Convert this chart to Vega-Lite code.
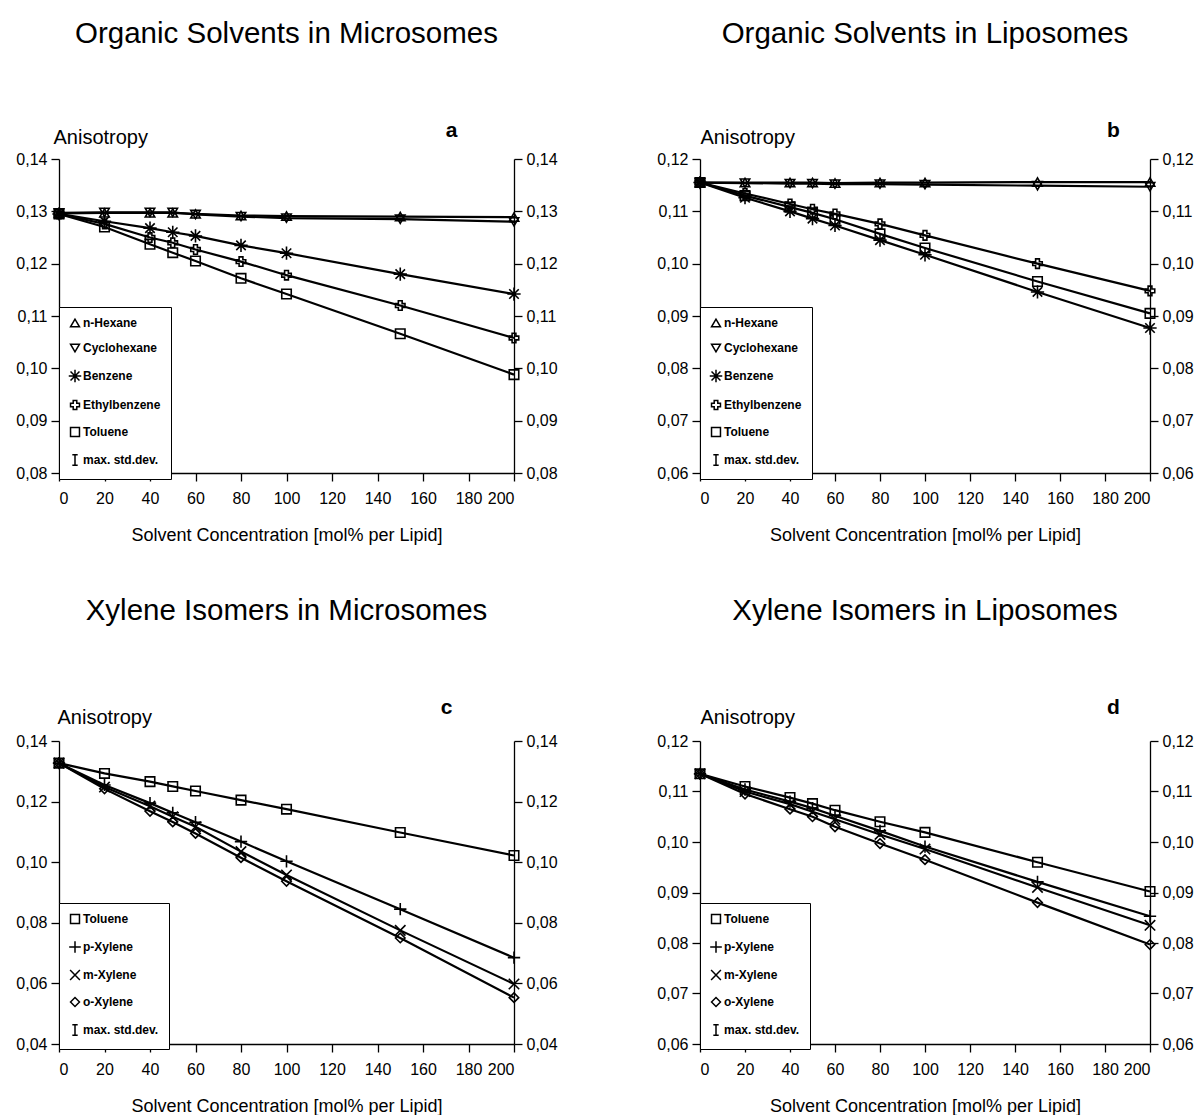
{
  "$schema": "https://vega.github.io/schema/vega-lite/v6.json",
  "autosize": {"type": "pad"},
  "padding": {"left": 15, "top": 18, "right": 0, "bottom": 0},
  "background": "white",
  "datasets": {
    "a": [
      {"conc": 0, "series": "n-Hexane", "aniso": 0.1296}, {"conc": 20, "series": "n-Hexane", "aniso": 0.1297}, {"conc": 40, "series": "n-Hexane", "aniso": 0.1297}, {"conc": 50, "series": "n-Hexane", "aniso": 0.1297}, {"conc": 60, "series": "n-Hexane", "aniso": 0.1295}, {"conc": 80, "series": "n-Hexane", "aniso": 0.1292}, {"conc": 100, "series": "n-Hexane", "aniso": 0.1291}, {"conc": 150, "series": "n-Hexane", "aniso": 0.129}, {"conc": 200, "series": "n-Hexane", "aniso": 0.1289},
      {"conc": 0, "series": "Cyclohexane", "aniso": 0.1297}, {"conc": 20, "series": "Cyclohexane", "aniso": 0.1298}, {"conc": 40, "series": "Cyclohexane", "aniso": 0.1298}, {"conc": 50, "series": "Cyclohexane", "aniso": 0.1298}, {"conc": 60, "series": "Cyclohexane", "aniso": 0.1294}, {"conc": 80, "series": "Cyclohexane", "aniso": 0.129}, {"conc": 100, "series": "Cyclohexane", "aniso": 0.1287}, {"conc": 150, "series": "Cyclohexane", "aniso": 0.1285}, {"conc": 200, "series": "Cyclohexane", "aniso": 0.128},
      {"conc": 0, "series": "Benzene", "aniso": 0.1295}, {"conc": 20, "series": "Benzene", "aniso": 0.1281}, {"conc": 40, "series": "Benzene", "aniso": 0.1268}, {"conc": 50, "series": "Benzene", "aniso": 0.126}, {"conc": 60, "series": "Benzene", "aniso": 0.1253}, {"conc": 80, "series": "Benzene", "aniso": 0.1235}, {"conc": 100, "series": "Benzene", "aniso": 0.122}, {"conc": 150, "series": "Benzene", "aniso": 0.118}, {"conc": 200, "series": "Benzene", "aniso": 0.1142},
      {"conc": 0, "series": "Ethylbenzene", "aniso": 0.1295}, {"conc": 20, "series": "Ethylbenzene", "aniso": 0.1276}, {"conc": 40, "series": "Ethylbenzene", "aniso": 0.125}, {"conc": 50, "series": "Ethylbenzene", "aniso": 0.124}, {"conc": 60, "series": "Ethylbenzene", "aniso": 0.1227}, {"conc": 80, "series": "Ethylbenzene", "aniso": 0.1204}, {"conc": 100, "series": "Ethylbenzene", "aniso": 0.1178}, {"conc": 150, "series": "Ethylbenzene", "aniso": 0.112}, {"conc": 200, "series": "Ethylbenzene", "aniso": 0.1058},
      {"conc": 0, "series": "Toluene", "aniso": 0.1295}, {"conc": 20, "series": "Toluene", "aniso": 0.127}, {"conc": 40, "series": "Toluene", "aniso": 0.1237}, {"conc": 50, "series": "Toluene", "aniso": 0.1221}, {"conc": 60, "series": "Toluene", "aniso": 0.1205}, {"conc": 80, "series": "Toluene", "aniso": 0.1172}, {"conc": 100, "series": "Toluene", "aniso": 0.1142}, {"conc": 150, "series": "Toluene", "aniso": 0.1066}, {"conc": 200, "series": "Toluene", "aniso": 0.0988}
    ],
    "b": [
      {"conc": 0, "series": "n-Hexane", "aniso": 0.1155}, {"conc": 20, "series": "n-Hexane", "aniso": 0.1155}, {"conc": 40, "series": "n-Hexane", "aniso": 0.1155}, {"conc": 50, "series": "n-Hexane", "aniso": 0.1155}, {"conc": 60, "series": "n-Hexane", "aniso": 0.1154}, {"conc": 80, "series": "n-Hexane", "aniso": 0.1155}, {"conc": 100, "series": "n-Hexane", "aniso": 0.1155}, {"conc": 150, "series": "n-Hexane", "aniso": 0.1156}, {"conc": 200, "series": "n-Hexane", "aniso": 0.1156},
      {"conc": 0, "series": "Cyclohexane", "aniso": 0.1155}, {"conc": 20, "series": "Cyclohexane", "aniso": 0.1154}, {"conc": 40, "series": "Cyclohexane", "aniso": 0.1153}, {"conc": 50, "series": "Cyclohexane", "aniso": 0.1153}, {"conc": 60, "series": "Cyclohexane", "aniso": 0.1152}, {"conc": 80, "series": "Cyclohexane", "aniso": 0.1152}, {"conc": 100, "series": "Cyclohexane", "aniso": 0.1151}, {"conc": 150, "series": "Cyclohexane", "aniso": 0.1149}, {"conc": 200, "series": "Cyclohexane", "aniso": 0.1147},
      {"conc": 0, "series": "Benzene", "aniso": 0.1155}, {"conc": 20, "series": "Benzene", "aniso": 0.1126}, {"conc": 40, "series": "Benzene", "aniso": 0.11}, {"conc": 50, "series": "Benzene", "aniso": 0.1086}, {"conc": 60, "series": "Benzene", "aniso": 0.1073}, {"conc": 80, "series": "Benzene", "aniso": 0.1045}, {"conc": 100, "series": "Benzene", "aniso": 0.1017}, {"conc": 150, "series": "Benzene", "aniso": 0.0946}, {"conc": 200, "series": "Benzene", "aniso": 0.0877},
      {"conc": 0, "series": "Ethylbenzene", "aniso": 0.1155}, {"conc": 20, "series": "Ethylbenzene", "aniso": 0.1134}, {"conc": 40, "series": "Ethylbenzene", "aniso": 0.1114}, {"conc": 50, "series": "Ethylbenzene", "aniso": 0.1104}, {"conc": 60, "series": "Ethylbenzene", "aniso": 0.1095}, {"conc": 80, "series": "Ethylbenzene", "aniso": 0.1076}, {"conc": 100, "series": "Ethylbenzene", "aniso": 0.1054}, {"conc": 150, "series": "Ethylbenzene", "aniso": 0.1}, {"conc": 200, "series": "Ethylbenzene", "aniso": 0.0948},
      {"conc": 0, "series": "Toluene", "aniso": 0.1155}, {"conc": 20, "series": "Toluene", "aniso": 0.113}, {"conc": 40, "series": "Toluene", "aniso": 0.1108}, {"conc": 50, "series": "Toluene", "aniso": 0.1097}, {"conc": 60, "series": "Toluene", "aniso": 0.1085}, {"conc": 80, "series": "Toluene", "aniso": 0.1057}, {"conc": 100, "series": "Toluene", "aniso": 0.103}, {"conc": 150, "series": "Toluene", "aniso": 0.0966}, {"conc": 200, "series": "Toluene", "aniso": 0.0905}
    ],
    "c": [
      {"conc": 0, "series": "Toluene", "aniso": 0.1327}, {"conc": 20, "series": "Toluene", "aniso": 0.1293}, {"conc": 40, "series": "Toluene", "aniso": 0.1266}, {"conc": 50, "series": "Toluene", "aniso": 0.125}, {"conc": 60, "series": "Toluene", "aniso": 0.1235}, {"conc": 80, "series": "Toluene", "aniso": 0.1205}, {"conc": 100, "series": "Toluene", "aniso": 0.1175}, {"conc": 150, "series": "Toluene", "aniso": 0.1098}, {"conc": 200, "series": "Toluene", "aniso": 0.1022},
      {"conc": 0, "series": "p-Xylene", "aniso": 0.1327}, {"conc": 20, "series": "p-Xylene", "aniso": 0.1255}, {"conc": 40, "series": "p-Xylene", "aniso": 0.1195}, {"conc": 50, "series": "p-Xylene", "aniso": 0.1163}, {"conc": 60, "series": "p-Xylene", "aniso": 0.1132}, {"conc": 80, "series": "p-Xylene", "aniso": 0.1068}, {"conc": 100, "series": "p-Xylene", "aniso": 0.1003}, {"conc": 150, "series": "p-Xylene", "aniso": 0.0845}, {"conc": 200, "series": "p-Xylene", "aniso": 0.0685},
      {"conc": 0, "series": "m-Xylene", "aniso": 0.1327}, {"conc": 20, "series": "m-Xylene", "aniso": 0.1248}, {"conc": 40, "series": "m-Xylene", "aniso": 0.1185}, {"conc": 50, "series": "m-Xylene", "aniso": 0.115}, {"conc": 60, "series": "m-Xylene", "aniso": 0.1117}, {"conc": 80, "series": "m-Xylene", "aniso": 0.1035}, {"conc": 100, "series": "m-Xylene", "aniso": 0.0958}, {"conc": 150, "series": "m-Xylene", "aniso": 0.0775}, {"conc": 200, "series": "m-Xylene", "aniso": 0.0598},
      {"conc": 0, "series": "o-Xylene", "aniso": 0.1327}, {"conc": 20, "series": "o-Xylene", "aniso": 0.1242}, {"conc": 40, "series": "o-Xylene", "aniso": 0.1168}, {"conc": 50, "series": "o-Xylene", "aniso": 0.1133}, {"conc": 60, "series": "o-Xylene", "aniso": 0.1095}, {"conc": 80, "series": "o-Xylene", "aniso": 0.1015}, {"conc": 100, "series": "o-Xylene", "aniso": 0.0937}, {"conc": 150, "series": "o-Xylene", "aniso": 0.075}, {"conc": 200, "series": "o-Xylene", "aniso": 0.0553}
    ],
    "d": [
      {"conc": 0, "series": "Toluene", "aniso": 0.1135}, {"conc": 20, "series": "Toluene", "aniso": 0.111}, {"conc": 40, "series": "Toluene", "aniso": 0.1088}, {"conc": 50, "series": "Toluene", "aniso": 0.1076}, {"conc": 60, "series": "Toluene", "aniso": 0.1063}, {"conc": 80, "series": "Toluene", "aniso": 0.104}, {"conc": 100, "series": "Toluene", "aniso": 0.1019}, {"conc": 150, "series": "Toluene", "aniso": 0.096}, {"conc": 200, "series": "Toluene", "aniso": 0.0902},
      {"conc": 0, "series": "p-Xylene", "aniso": 0.1135}, {"conc": 20, "series": "p-Xylene", "aniso": 0.1104}, {"conc": 40, "series": "p-Xylene", "aniso": 0.108}, {"conc": 50, "series": "p-Xylene", "aniso": 0.1067}, {"conc": 60, "series": "p-Xylene", "aniso": 0.1052}, {"conc": 80, "series": "p-Xylene", "aniso": 0.1022}, {"conc": 100, "series": "p-Xylene", "aniso": 0.0991}, {"conc": 150, "series": "p-Xylene", "aniso": 0.0921}, {"conc": 200, "series": "p-Xylene", "aniso": 0.0853},
      {"conc": 0, "series": "m-Xylene", "aniso": 0.1135}, {"conc": 20, "series": "m-Xylene", "aniso": 0.11}, {"conc": 40, "series": "m-Xylene", "aniso": 0.1075}, {"conc": 50, "series": "m-Xylene", "aniso": 0.106}, {"conc": 60, "series": "m-Xylene", "aniso": 0.1045}, {"conc": 80, "series": "m-Xylene", "aniso": 0.1015}, {"conc": 100, "series": "m-Xylene", "aniso": 0.0986}, {"conc": 150, "series": "m-Xylene", "aniso": 0.091}, {"conc": 200, "series": "m-Xylene", "aniso": 0.0835},
      {"conc": 0, "series": "o-Xylene", "aniso": 0.1135}, {"conc": 20, "series": "o-Xylene", "aniso": 0.1095}, {"conc": 40, "series": "o-Xylene", "aniso": 0.1065}, {"conc": 50, "series": "o-Xylene", "aniso": 0.105}, {"conc": 60, "series": "o-Xylene", "aniso": 0.103}, {"conc": 80, "series": "o-Xylene", "aniso": 0.0997}, {"conc": 100, "series": "o-Xylene", "aniso": 0.0965}, {"conc": 150, "series": "o-Xylene", "aniso": 0.088}, {"conc": 200, "series": "o-Xylene", "aniso": 0.0797}
    ]
  },
  "bounds": "flush",
  "columns": 2,
  "spacing": {"row": 268, "column": 186},
  "resolve": {"scale": {"x": "independent", "y": "independent", "shape": "independent"}, "legend": {"shape": "independent"}},
  "concat": [
    {
      "width": 455, "height": 314,
      "title": {"text": "Organic Solvents in Microsomes", "offset": 70},
      "data": {"name": "a"},
      "layer": [
        {"mark": {"type": "line", "color": "black", "strokeWidth": 2.2},
         "encoding": {
           "x": {"field": "conc", "type": "quantitative", "scale": {"domain": [0, 200], "nice": false}, "axis": {"values": [0, 20, 40, 60, 80, 100, 120, 140, 160, 180, 200], "title": "Solvent Concentration [mol% per Lipid]"}},
           "y": {"field": "aniso", "type": "quantitative", "scale": {"domain": [0.08, 0.14], "nice": false, "zero": false}, "axis": {"values": [0.08, 0.09, 0.1, 0.11, 0.12, 0.13, 0.14], "title": "Anisotropy", "titleX": -6, "titleY": -16}},
           "detail": {"field": "series"}}},
        {"mark": {"type": "point", "filled": false, "color": "black", "opacity": 1, "size": 90, "strokeWidth": 1.6},
         "encoding": {
           "x": {"field": "conc", "type": "quantitative"},
           "y": {"field": "aniso", "type": "quantitative", "axis": {"orient": "right", "values": [0.08, 0.09, 0.1, 0.11, 0.12, 0.13, 0.14], "title": "a", "titleX": -63, "titleY": -23}},
           "shape": {"field": "series", "type": "nominal", "scale": {"domain": ["n-Hexane", "Cyclohexane", "Benzene", "Ethylbenzene", "Toluene", "max. std.dev."], "range": ["triangle-up", "triangle-down", "M-1.4,0L1.4,0M0,-1.4L0,1.4M-1,-1L1,1M-1,1L1,-1", "cross", "square", "M-0.6,-1.2L0.6,-1.2M0,-1.2L0,1.2M-0.6,1.2L0.6,1.2"]}, "legend": {"legendY": 148}}}}
      ],
      "resolve": {"axis": {"y": "independent"}}
    },
    {
      "width": 450, "height": 314,
      "title": {"text": "Organic Solvents in Liposomes", "offset": 70},
      "data": {"name": "b"},
      "layer": [
        {"mark": {"type": "line", "color": "black", "strokeWidth": 2.2},
         "encoding": {
           "x": {"field": "conc", "type": "quantitative", "scale": {"domain": [0, 200], "nice": false}, "axis": {"values": [0, 20, 40, 60, 80, 100, 120, 140, 160, 180, 200], "title": "Solvent Concentration [mol% per Lipid]"}},
           "y": {"field": "aniso", "type": "quantitative", "scale": {"domain": [0.06, 0.12], "nice": false, "zero": false}, "axis": {"values": [0.06, 0.07, 0.08, 0.09, 0.1, 0.11, 0.12], "title": "Anisotropy", "titleX": 0, "titleY": -16}},
           "detail": {"field": "series"}}},
        {"mark": {"type": "point", "filled": false, "color": "black", "opacity": 1, "size": 90, "strokeWidth": 1.6},
         "encoding": {
           "x": {"field": "conc", "type": "quantitative"},
           "y": {"field": "aniso", "type": "quantitative", "axis": {"orient": "right", "values": [0.06, 0.07, 0.08, 0.09, 0.1, 0.11, 0.12], "title": "b", "titleX": -37, "titleY": -23}},
           "shape": {"field": "series", "type": "nominal", "scale": {"domain": ["n-Hexane", "Cyclohexane", "Benzene", "Ethylbenzene", "Toluene", "max. std.dev."], "range": ["triangle-up", "triangle-down", "M-1.4,0L1.4,0M0,-1.4L0,1.4M-1,-1L1,1M-1,1L1,-1", "cross", "square", "M-0.6,-1.2L0.6,-1.2M0,-1.2L0,1.2M-0.6,1.2L0.6,1.2"]}, "legend": {"legendY": 148}}}}
      ],
      "resolve": {"axis": {"y": "independent"}}
    },
    {
      "width": 455, "height": 303,
      "title": {"text": "Xylene Isomers in Microsomes", "offset": 70},
      "data": {"name": "c"},
      "layer": [
        {"mark": {"type": "line", "color": "black", "strokeWidth": 2.2},
         "encoding": {
           "x": {"field": "conc", "type": "quantitative", "scale": {"domain": [0, 200], "nice": false}, "axis": {"values": [0, 20, 40, 60, 80, 100, 120, 140, 160, 180, 200], "title": "Solvent Concentration [mol% per Lipid]"}},
           "y": {"field": "aniso", "type": "quantitative", "scale": {"domain": [0.04, 0.14], "nice": false, "zero": false}, "axis": {"values": [0.04, 0.06, 0.08, 0.1, 0.12, 0.14], "title": "Anisotropy", "titleX": -2, "titleY": -18}},
           "detail": {"field": "series"}}},
        {"mark": {"type": "point", "filled": false, "color": "black", "opacity": 1, "size": 90, "strokeWidth": 1.6},
         "encoding": {
           "x": {"field": "conc", "type": "quantitative"},
           "y": {"field": "aniso", "type": "quantitative", "axis": {"orient": "right", "values": [0.04, 0.06, 0.08, 0.1, 0.12, 0.14], "title": "c", "titleX": -68, "titleY": -28}},
           "shape": {"field": "series", "type": "nominal", "scale": {"domain": ["Toluene", "p-Xylene", "m-Xylene", "o-Xylene", "max. std.dev."], "range": ["square", "M-1.3,0L1.3,0M0,-1.3L0,1.3", "M-1.1,-1.1L1.1,1.1M-1.1,1.1L1.1,-1.1", "diamond", "M-0.6,-1.2L0.6,-1.2M0,-1.2L0,1.2M-0.6,1.2L0.6,1.2"]}, "legend": {"legendY": 162}}}}
      ],
      "resolve": {"axis": {"y": "independent"}}
    },
    {
      "width": 450, "height": 303,
      "title": {"text": "Xylene Isomers in Liposomes", "offset": 70},
      "data": {"name": "d"},
      "layer": [
        {"mark": {"type": "line", "color": "black", "strokeWidth": 2.2},
         "encoding": {
           "x": {"field": "conc", "type": "quantitative", "scale": {"domain": [0, 200], "nice": false}, "axis": {"values": [0, 20, 40, 60, 80, 100, 120, 140, 160, 180, 200], "title": "Solvent Concentration [mol% per Lipid]"}},
           "y": {"field": "aniso", "type": "quantitative", "scale": {"domain": [0.06, 0.12], "nice": false, "zero": false}, "axis": {"values": [0.06, 0.07, 0.08, 0.09, 0.1, 0.11, 0.12], "title": "Anisotropy", "titleX": 0, "titleY": -18}},
           "detail": {"field": "series"}}},
        {"mark": {"type": "point", "filled": false, "color": "black", "opacity": 1, "size": 90, "strokeWidth": 1.6},
         "encoding": {
           "x": {"field": "conc", "type": "quantitative"},
           "y": {"field": "aniso", "type": "quantitative", "axis": {"orient": "right", "values": [0.06, 0.07, 0.08, 0.09, 0.1, 0.11, 0.12], "title": "d", "titleX": -37, "titleY": -28}},
           "shape": {"field": "series", "type": "nominal", "scale": {"domain": ["Toluene", "p-Xylene", "m-Xylene", "o-Xylene", "max. std.dev."], "range": ["square", "M-1.3,0L1.3,0M0,-1.3L0,1.3", "M-1.1,-1.1L1.1,1.1M-1.1,1.1L1.1,-1.1", "diamond", "M-0.6,-1.2L0.6,-1.2M0,-1.2L0,1.2M-0.6,1.2L0.6,1.2"]}, "legend": {"legendY": 162}}}}
      ],
      "resolve": {"axis": {"y": "independent"}}
    }
  ],
  "config": {
    "font": "Liberation Sans",
    "view": {"stroke": null},
    "title": {"fontSize": 29.5, "fontWeight": "normal", "color": "black", "anchor": "middle", "font": "Liberation Sans"},
    "axis": {"grid": false, "domainColor": "black", "tickColor": "black", "labelColor": "black", "titleColor": "black", "labelFontSize": 16, "labelFont": "Liberation Sans", "tickSize": 8, "domainWidth": 1.3, "tickWidth": 1.3, "labelPadding": 4},
    "axisX": {"titleFontSize": 18, "titleFontWeight": "normal", "titlePadding": 20, "labelPadding": 9},
    "axisLeft": {"labelExpr": "replace(format(datum.value, '.2f'), '.', ',')", "titleAngle": 0, "titleAlign": "left", "titleBaseline": "alphabetic", "titleFontSize": 20, "titleFontWeight": "normal"},
    "axisRight": {"labelExpr": "replace(format(datum.value, '.2f'), '.', ',')", "titleAngle": 0, "titleBaseline": "alphabetic", "titleAlign": "center", "titleFontSize": 21, "titleFontWeight": "bold"},
    "legend": {"orient": "none", "legendX": 0, "title": null, "strokeColor": "black", "fillColor": "white", "padding": 10, "rowPadding": 11, "labelFontSize": 12, "labelFontWeight": "bold", "labelFont": "Liberation Sans", "labelColor": "black", "symbolStrokeColor": "black", "symbolFillColor": "white", "symbolStrokeWidth": 1.5, "symbolSize": 80, "labelOffset": 2, "symbolOpacity": 1}
  }
}
